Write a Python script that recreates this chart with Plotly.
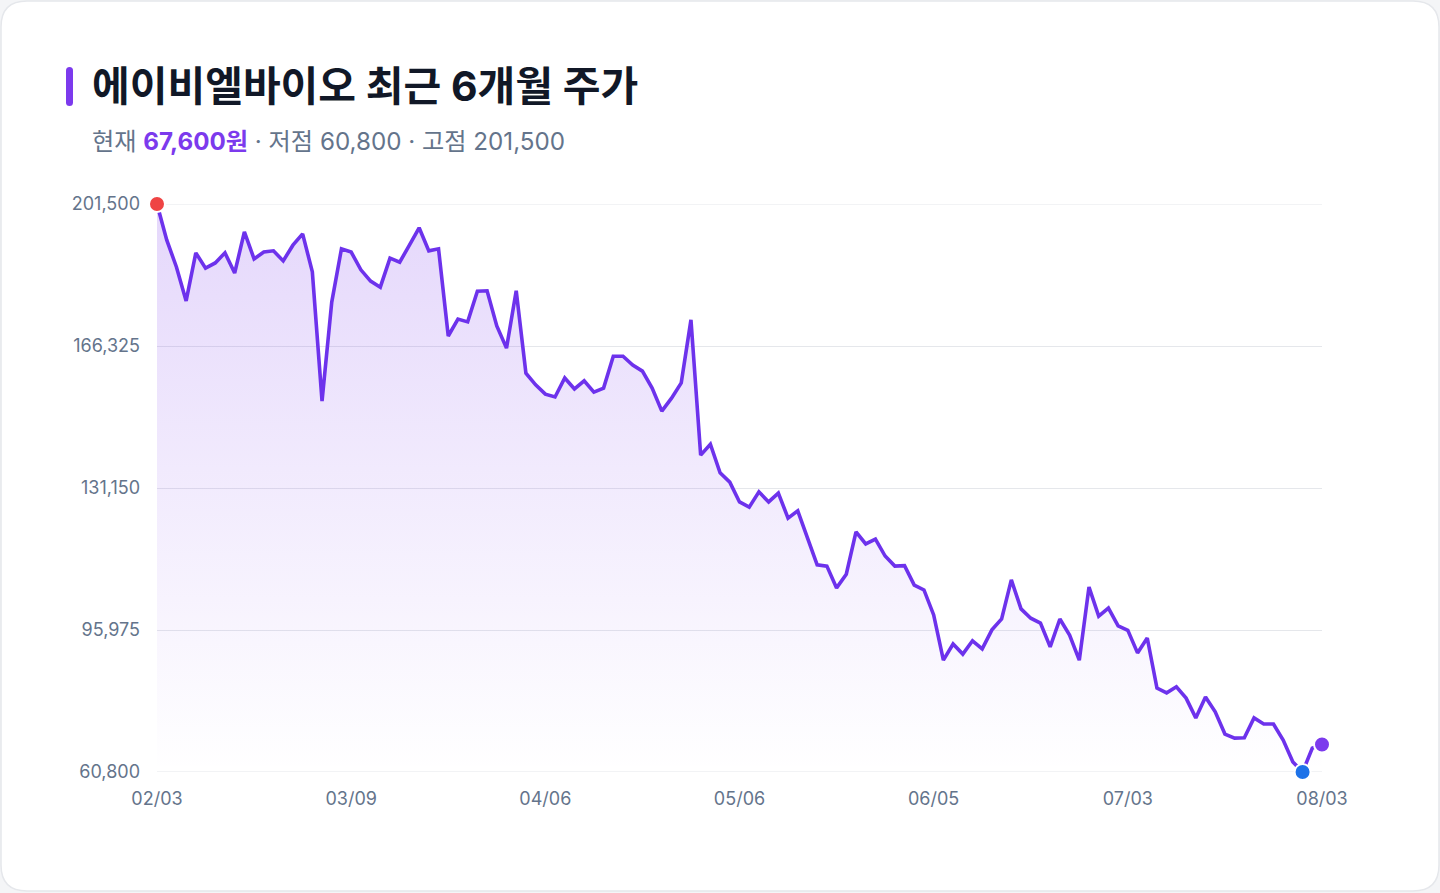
import plotly.graph_objects as go

# 에이비엘바이오 일별 종가 (2026-02-03 ~ 2026-08-03, 거래일 기준)
prices = [
    201500, 192600, 185900, 177500, 189400, 185600, 186900, 189400, 184400, 194600,
    187900, 189600, 189900, 187400, 191300, 194100, 184700, 152700, 177200, 190400,
    189600, 185200, 182400, 180900, 188100, 187100, 191300, 195600, 189900, 190400,
    168800, 173000, 172300, 179900, 180000, 171300, 165800, 180000, 159600, 156700,
    154400, 153700, 158400, 155700, 157700, 154900, 155900, 163800, 163800, 161600,
    160100, 155900, 150200, 153400, 157200, 172800, 139300, 142000, 134900, 132600,
    127700, 126400, 130200, 127700, 129900, 123700, 125500, 119000, 112100, 111800,
    106400, 109800, 120300, 117300, 118500, 114300, 111800, 111900, 107100, 105900,
    99700, 88500, 92500, 90000, 93300, 91300, 96000, 98700, 108400, 101200,
    98900, 97700, 91800, 98700, 94700, 88500, 106600, 99400, 101400, 97000,
    95900, 90300, 94000, 81600, 80400, 81900, 79100, 74200, 79400, 75700,
    70200, 69200, 69300, 74200, 72700, 72700, 68700, 63300, 60800, 66700,
    67600,
]
tick_idx = [0, 20, 40, 60, 80, 100, 120]
tick_labels = ["02/03", "03/09", "04/06", "05/06", "06/05", "07/03", "08/03"]

title_text = "에이비엘바이오 최근 6개월 주가"

x = list(range(len(prices)))
lo, hi = min(prices), max(prices)
i_lo, i_hi = prices.index(lo), prices.index(hi)
step = (hi - lo) / 4
ytick = [lo + k * step for k in range(5)]

W, H = 1440, 893
L, R, T, B = 157, 1322, 204, 772
PURPLE = "#6d32ec"
GRAY = "#64748b"
GRID = "#e5e7eb"


def px(v):
    return (v - L) / (R - L)


def py(v):
    return (B - v) / (B - T)


def rrect(x0, y0, x1, y1, r):
    # 둥근 사각형 (픽셀 -> paper 좌표)
    pts = [
        f"M{px(x0 + r)},{py(y0)}", f"L{px(x1 - r)},{py(y0)}",
        f"Q{px(x1)},{py(y0)} {px(x1)},{py(y0 + r)}",
        f"L{px(x1)},{py(y1 - r)}",
        f"Q{px(x1)},{py(y1)} {px(x1 - r)},{py(y1)}",
        f"L{px(x0 + r)},{py(y1)}",
        f"Q{px(x0)},{py(y1)} {px(x0)},{py(y1 - r)}",
        f"L{px(x0)},{py(y0 + r)}",
        f"Q{px(x0)},{py(y0)} {px(x0 + r)},{py(y0)}", "Z",
    ]
    return " ".join(pts)


fig = go.Figure()

# 면적 채우기 기준선
fig.add_trace(go.Scatter(
    x=x, y=[lo] * len(x), mode="lines", line=dict(width=0),
    hoverinfo="skip", showlegend=False,
))
fig.add_trace(go.Scatter(
    x=x, y=prices, mode="lines", fill="tonexty",
    line=dict(color=PURPLE, width=3.6),
    fillgradient=dict(
        type="vertical",
        colorscale=[[0, "rgba(124,58,237,0.0)"], [1, "rgba(124,58,237,0.20)"]],
    ),
    showlegend=False, cliponaxis=False,
))

# 고점 / 저점 / 현재
fig.add_trace(go.Scatter(
    x=[i_hi, i_lo, x[-1]], y=[hi, lo, prices[-1]], mode="markers",
    marker=dict(size=16, color=["#ef4444", "#1d72e8", "#7c3aed"],
                line=dict(color="white", width=2)),
    showlegend=False, cliponaxis=False,
))

fig.update_xaxes(
    range=[0, len(prices) - 1], tickvals=tick_idx, ticktext=tick_labels,
    showgrid=False, zeroline=False, showline=False,
    tickfont=dict(size=18, color=GRAY), ticklabelstandoff=14,
)
fig.update_yaxes(
    range=[lo, hi], tickvals=ytick, tickformat=",d",
    showgrid=True, gridcolor=GRID, gridwidth=1, zeroline=False, showline=False,
    tickfont=dict(size=18, color=GRAY), ticklabelstandoff=16,
)

sub = (f"현재 <b><span style='color:#7c3aed'>{prices[-1]:,}원</span></b>"
       f" · 저점 {lo:,} · 고점 {hi:,}")

# 범위 끝 눈금선 (plotly가 가장자리 격자를 생략하므로 직접 추가)
edge_grid = [
    dict(type="line", xref="paper", yref="y", x0=0, x1=1, y0=v, y1=v,
         layer="below", line=dict(color=GRID, width=1))
    for v in (lo, hi)
]

fig.update_layout(
    width=W, height=H,
    margin=dict(l=L, r=W - R, t=T, b=H - B),
    paper_bgcolor="#f4f5f7", plot_bgcolor="rgba(0,0,0,0)",
    font=dict(family="Inter, 'Noto Sans CJK KR', sans-serif", color=GRAY),
    shapes=[
        dict(type="path", xref="paper", yref="paper", layer="below",
             path=rrect(1, 1, 1439, 891, 26), fillcolor="white",
             line=dict(color="#e5e7eb", width=1.5)),
        dict(type="path", xref="paper", yref="paper", layer="above",
             path=rrect(66, 67, 73, 106, 3.5), fillcolor="#7c3aed",
             line=dict(width=0)),
    ] + edge_grid,
    annotations=[
        dict(xref="paper", yref="paper", x=px(90), y=py(86), xanchor="left",
             yanchor="middle", showarrow=False, text=f"<b>{title_text}</b>",
             font=dict(size=41, color="#111827",
                       family="Inter, 'Noto Sans CJK KR', sans-serif")),
        dict(xref="paper", yref="paper", x=px(90), y=py(141), xanchor="left",
             yanchor="middle", showarrow=False, text=sub,
             font=dict(size=24.2, color=GRAY)),
    ],
)

fig.write_html(
    "out.html",
    config={"displayModeBar": False},
    post_script="document.body.style.margin='0';",
)
